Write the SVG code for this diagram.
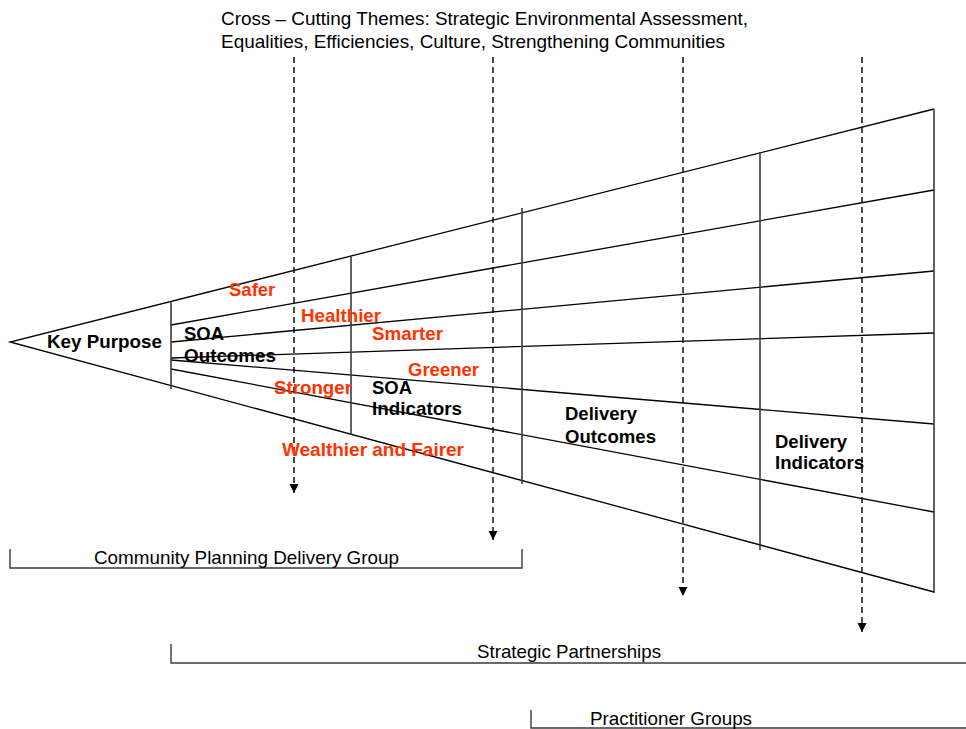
<svg xmlns="http://www.w3.org/2000/svg" width="966" height="729" viewBox="0 0 966 729">
<defs>
<marker id="ah" markerUnits="userSpaceOnUse" markerWidth="10" markerHeight="10" refX="9" refY="4.5" orient="auto" viewBox="0 0 10 9">
<path d="M0,0 L9,4.5 L0,9 Z" fill="#000"/>
</marker>
<style>
.ln{stroke:#000;stroke-width:1.3;fill:none}
.vd{stroke:#3a3a3a;stroke-width:1.6;fill:none}
.br{stroke:#3a3a3a;stroke-width:1.4;fill:none}
.da{stroke:#000;stroke-width:1.4;stroke-dasharray:6 4;fill:none;marker-end:url(#ah)}
.t{font-family:"Liberation Sans",Arial,sans-serif;font-size:18.5px;fill:#000}
.b{font-family:"Liberation Sans",Arial,sans-serif;font-size:18.5px;font-weight:bold;fill:#000}
.r{font-family:"Liberation Sans",Arial,sans-serif;font-size:18.5px;font-weight:bold;fill:#FF3300}
</style>
</defs>
<rect width="966" height="729" fill="#fff"/>

<g id="funnel">
<path class="ln" d="M934,109 L10,342 L934,592"/>
<line class="ln" x1="171" y1="325" x2="934" y2="190"/>
<line class="ln" x1="171" y1="342" x2="934" y2="271"/>
<line class="ln" x1="171" y1="358" x2="934" y2="333"/>
<line class="ln" x1="171" y1="360" x2="934" y2="424"/>
<line class="ln" x1="171" y1="369" x2="934" y2="512"/>
<line class="vd" x1="171" y1="302" x2="171" y2="389"/>
<line class="vd" x1="351" y1="256" x2="351" y2="435"/>
<line class="vd" x1="522" y1="208" x2="522" y2="484"/>
<line class="vd" x1="760" y1="152" x2="760" y2="550"/>
<line class="vd" x1="934" y1="109" x2="934" y2="593"/>
</g>

<g id="title">
<text class="t" x="221" y="25" textLength="527" lengthAdjust="spacingAndGlyphs">Cross – Cutting Themes: Strategic Environmental Assessment,</text>
<text class="t" x="221" y="48" textLength="504" lengthAdjust="spacingAndGlyphs">Equalities, Efficiencies, Culture, Strengthening Communities</text>
</g>

<g id="connectors">
<line class="da" x1="294" y1="57" x2="294" y2="493"/>
<line class="da" x1="493" y1="57" x2="493" y2="540"/>
<line class="da" x1="683" y1="57" x2="683" y2="596"/>
<line class="da" x1="862" y1="57" x2="862" y2="632"/>
</g>

<g id="key-purpose"><text class="b" x="47" y="348" textLength="115" lengthAdjust="spacingAndGlyphs">Key Purpose</text></g>
<g id="soa-outcomes">
<text class="b" x="184" y="340">SOA</text>
<text class="b" x="184" y="362" textLength="92" lengthAdjust="spacingAndGlyphs">Outcomes</text>
</g>
<g id="safer"><text class="r" x="229" y="296">Safer</text></g>
<g id="healthier"><text class="r" x="301" y="322" textLength="80" lengthAdjust="spacingAndGlyphs">Healthier</text></g>
<g id="smarter"><text class="r" x="372" y="340" textLength="71" lengthAdjust="spacingAndGlyphs">Smarter</text></g>
<g id="greener"><text class="r" x="408" y="376" textLength="71" lengthAdjust="spacingAndGlyphs">Greener</text></g>
<g id="stronger"><text class="r" x="274" y="394" textLength="78" lengthAdjust="spacingAndGlyphs">Stronger</text></g>
<g id="wealthier"><text class="r" x="282" y="456" textLength="182" lengthAdjust="spacingAndGlyphs">Wealthier and Fairer</text></g>
<g id="soa-indicators">
<text class="b" x="372" y="394">SOA</text>
<text class="b" x="372" y="415" textLength="90" lengthAdjust="spacingAndGlyphs">Indicators</text>
</g>
<g id="delivery-outcomes">
<text class="b" x="565" y="420" textLength="72" lengthAdjust="spacingAndGlyphs">Delivery</text>
<text class="b" x="565" y="443" textLength="91" lengthAdjust="spacingAndGlyphs">Outcomes</text>
</g>
<g id="delivery-indicators">
<text class="b" x="775" y="448" textLength="72" lengthAdjust="spacingAndGlyphs">Delivery</text>
<text class="b" x="775" y="469" textLength="89" lengthAdjust="spacingAndGlyphs">Indicators</text>
</g>

<g id="community-planning-delivery-group">
<path class="br" d="M10,549 L10,568 L522,568 L522,549"/>
<text class="t" x="94" y="564" textLength="305" lengthAdjust="spacingAndGlyphs">Community Planning Delivery Group</text>
</g>
<g id="strategic-partnerships">
<path class="br" d="M171,644 L171,663 L966,663"/>
<text class="t" x="477" y="658" textLength="184" lengthAdjust="spacingAndGlyphs">Strategic Partnerships</text>
</g>
<g id="practitioner-groups">
<path class="br" d="M531,710 L531,728 L966,728"/>
<text class="t" x="590" y="725" textLength="162" lengthAdjust="spacingAndGlyphs">Practitioner Groups</text>
</g>
</svg>
